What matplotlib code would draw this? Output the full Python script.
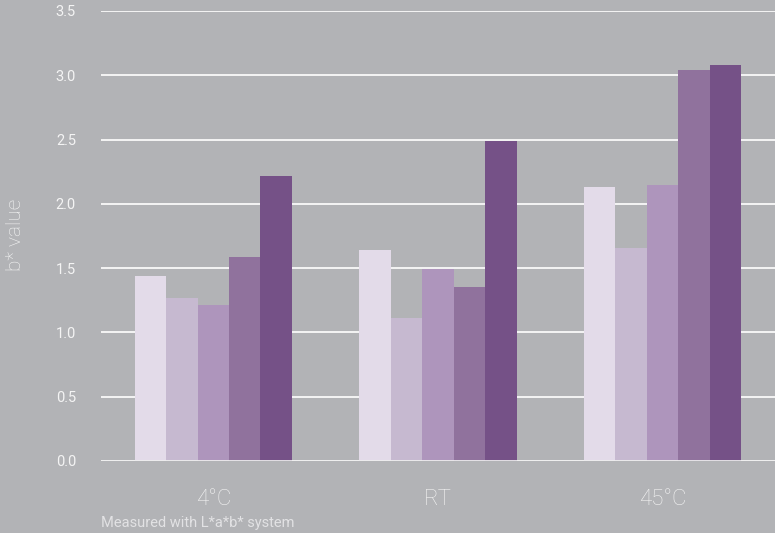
import matplotlib.pyplot as plt
import numpy as np

# === DATA ===
groups = ["4°C", "RT", "45°C"]
series_1 = [1.44, 1.64, 2.13]
series_2 = [1.27, 1.11, 1.66]
series_3 = [1.21, 1.49, 2.15]
series_4 = [1.59, 1.35, 3.04]
series_5 = [2.22, 2.49, 3.08]
yticks = [0.0, 0.5, 1.0, 1.5, 2.0, 2.5, 3.0, 3.5]

# === STYLE ===
BG = "#b2b3b6"
TXT = "#f4f4f4"
colors = ["#e3dbe9", "#c6b9d0", "#ae95bc", "#90729d", "#755187"]
plt.rcParams["font.family"] = ["Roboto", "DejaVu Sans"]

fig = plt.figure(figsize=(7.75, 5.33), dpi=100, facecolor=BG)
ax = fig.add_axes([0.1303, 0.1351, 0.8697, 0.8443])
ax.set_facecolor(BG)

series = [series_1, series_2, series_3, series_4, series_5]
x = np.arange(len(groups))
w = 0.14
for i, vals in enumerate(series):
    ax.bar(x + (i - 2) * w, vals, width=w, color=colors[i], zorder=3)

ax.set_xlim(-0.5, 2.5)
ax.set_ylim(0, 3.5)
ax.set_yticks(yticks)
ax.set_yticklabels([f"{t:.1f}" for t in yticks], color=TXT, fontsize=10.5)
ax.set_xticks(x)
ax.set_xticklabels(groups, color=TXT, fontsize=16, fontweight="light")
ax.tick_params(axis="y", length=0, pad=18)
ax.tick_params(axis="x", length=0, pad=20)
ax.grid(axis="y", color="white", linewidth=1.2, zorder=0)
for s in ax.spines.values():
    s.set_visible(False)
ax.axhline(0, color="#eeeeee", linewidth=2, zorder=4)

fig.text(0.02, 0.56, "b* value", rotation=90, color=TXT, fontsize=15,
         fontweight="light", ha="center", va="center")
fig.text(0.1303, 0.005, "Measured with L*a*b* system", color="#e2e2e4",
         fontsize=10.5, ha="left", va="bottom")

fig.savefig("out.png", dpi=100, facecolor=BG)
